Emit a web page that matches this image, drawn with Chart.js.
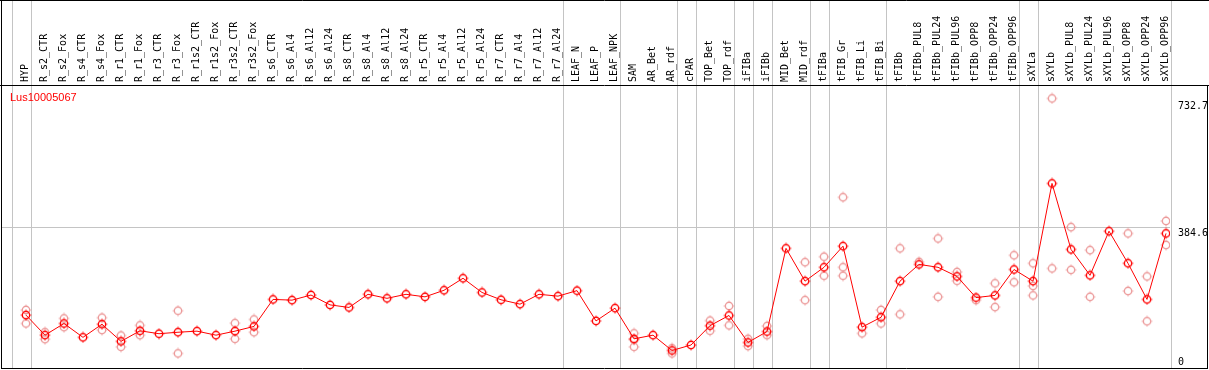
<!DOCTYPE html>
<html>
<head>
<meta charset="utf-8">
<script src="https://cdn.jsdelivr.net/npm/chart.js@4/dist/chart.umd.min.js"></script>
<style>
  html, body { margin: 0; padding: 0; background: #fff; }
  #wrap { width: 1209px; height: 370px; }
</style>
</head>
<body>
<div id="wrap"><canvas id="expr" width="1209" height="370"></canvas></div>
<script>
const geneName = 'Lus10005067';

const categories = [
    'HYP', 'R_s2_CTR', 'R_s2_Fox', 'R_s4_CTR', 'R_s4_Fox', 'R_r1_CTR', 'R_r1_Fox', 'R_r3_CTR', 'R_r3_Fox', 'R_r1s2_CTR',
    'R_r1s2_Fox', 'R_r3s2_CTR', 'R_r3s2_Fox', 'R_s6_CTR', 'R_s6_Al4', 'R_s6_Al12', 'R_s6_Al24', 'R_s8_CTR', 'R_s8_Al4', 'R_s8_Al12',
    'R_s8_Al24', 'R_r5_CTR', 'R_r5_Al4', 'R_r5_Al12', 'R_r5_Al24', 'R_r7_CTR', 'R_r7_Al4', 'R_r7_Al12', 'R_r7_Al24', 'LEAF_N',
    'LEAF_P', 'LEAF_NPK', 'SAM', 'AR_Bet', 'AR_rdf', 'cPAR', 'TOP_Bet', 'TOP_rdf', 'iFIBa', 'iFIBb',
    'MID_Bet', 'MID_rdf', 'tFIBa', 'tFIB_Gr', 'tFIB_Li', 'tFIB_Bi', 'tFIBb', 'tFIBb_PUL8', 'tFIBb_PUL24', 'tFIBb_PUL96',
    'tFIBb_OPP8', 'tFIBb_OPP24', 'tFIBb_OPP96', 'sXYLa', 'sXYLb', 'sXYLb_PUL8', 'sXYLb_PUL24', 'sXYLb_PUL96', 'sXYLb_OPP8', 'sXYLb_OPP24',
    'sXYLb_OPP96'
];

// mean expression per sample
const meanValues = [
    145, 90, 122, 84, 120, 73, 102, 94, 98, 101,
    90, 101, 114, 188, 186, 200, 173, 166, 202, 191,
    202, 195, 213, 246, 207, 187, 175, 202, 197, 212,
    129, 164, 80, 90, 48, 63, 116, 144, 70, 100,
    328, 238, 276, 334, 112, 139, 238, 284, 276, 251,
    193, 199, 270, 238, 506, 325, 254, 375, 287, 188,
    369
];

// single replicates (null where hidden under the mean)
const replicateA = [
    159, 98, 136, null, 138, 89, 117, null, 157, null,
    null, 123, 133, null, null, null, null, null, null, null,
    null, null, null, null, null, null, null, null, null, null,
    null, null, 95, null, 54, null, 130, 170, 80, 115,
    null, 290, 305, 468, 95, 159, 328, 291, 355, 263,
    186, 232, 309, 287, 739, 386, 323, null, 369, 251,
    403
];
const replicateB = [
    122, 79, 112, null, 104, 58, 90, null, 40, null,
    null, 80, 98, null, null, null, null, null, null, null,
    null, null, null, null, null, null, null, null, null, null,
    null, null, 77, null, 40, null, 102, 117, 60, 90,
    null, 186, 253, 276, null, 122, 147, null, 195, 239,
    null, 167, 235, 225, 273, 269, 195, null, 211, 128,
    337
];
const replicateC = [
    null, null, null, null, null, null, null, null, null, null,
    null, null, null, null, null, null, null, null, null, null,
    null, null, null, null, null, null, null, null, null, null,
    null, null, 58, null, null, null, null, null, null, null,
    null, null, null, 253, null, null, null, null, null, null,
    null, null, null, 199, null, null, null, null, null, null,
    null
];

const yTicks = [0, 384.6, 732.7];
// vertical group separators, drawn just after these sample indexes
const groupEnds = [-1, 0, 28, 31, 34, 35, 37, 38, 39, 41, 42, 45, 52, 53, 60];

const monoFont = '"DejaVu Sans Mono", monospace';

function toPoints(arr){
    return arr.map((v, i) => ({ x: i, y: v })).filter(p => p.y !== null);
}

// circle marker with little ticks, like the original plot
function makeMarker(color){
    const c = document.createElement('canvas');
    c.width = 12;
    c.height = 12;
    const g = c.getContext('2d');
    g.strokeStyle = color;
    g.lineWidth = 1.4;
    g.beginPath();
    g.arc(6, 6, 3.7, 0, Math.PI * 2);
    g.stroke();
    g.lineWidth = 0.9;
    g.beginPath();
    g.moveTo(6, 0.6); g.lineTo(6, 1.7);
    g.moveTo(6, 10.3); g.lineTo(6, 11.4);
    g.moveTo(0.6, 6); g.lineTo(1.7, 6);
    g.moveTo(10.3, 6); g.lineTo(11.4, 6);
    g.stroke();
    return c;
}

const redMarker = makeMarker('#ff0000');
const paleMarker = makeMarker('#ec9a9a');

const separatorPlugin = {
    id: 'separators',
    beforeDatasetsDraw(chart){
        const ctx = chart.ctx;
        const xs = chart.scales.x;
        const area = chart.chartArea;
        ctx.save();
        ctx.strokeStyle = '#c4c4c4';
        ctx.lineWidth = 1;
        groupEnds.forEach(function(idx){
            const px = Math.round(xs.getPixelForValue(idx + 0.24)) + 0.5;
            ctx.beginPath();
            ctx.moveTo(px, 0);
            ctx.lineTo(px, area.bottom);
            ctx.stroke();
        });
        ctx.restore();
    }
};

const framePlugin = {
    id: 'frame',
    afterDraw(chart){
        const ctx = chart.ctx;
        const area = chart.chartArea;
        const w = chart.width;
        const right = chart.scales.y.right;
        ctx.save();
        ctx.strokeStyle = '#000';
        ctx.lineWidth = 1;
        ctx.beginPath();
        ctx.moveTo(0, 0.5); ctx.lineTo(w, 0.5);
        ctx.moveTo(0, area.top + 0.5); ctx.lineTo(w, area.top + 0.5);
        ctx.moveTo(1.5, 0); ctx.lineTo(1.5, area.bottom + 1);
        ctx.moveTo(1, area.bottom + 0.5); ctx.lineTo(right + 1, area.bottom + 0.5);
        ctx.moveTo(right + 0.5, area.top); ctx.lineTo(right + 0.5, area.bottom + 1);
        ctx.stroke();

        ctx.fillStyle = '#ff0000';
        ctx.font = '11px "Liberation Sans", Arial, sans-serif';
        ctx.textBaseline = 'alphabetic';
        ctx.fillText(geneName, area.left + 8, area.top + 16);
        ctx.restore();
    }
};

const paleDataset = (arr) => ({
    data: toPoints(arr),
    showLine: false,
    pointStyle: paleMarker,
    borderColor: '#ec9a9a',
    backgroundColor: 'transparent'
});

// drop the label overhang padding chart.js adds around the plot
function noPadding(scale){
    scale.paddingTop = 0;
    scale.paddingBottom = 0;
    scale.paddingLeft = 0;
    scale.paddingRight = 0;
}

const chart = new Chart(document.getElementById('expr'), {
    type: 'line',
    data: {
        datasets: [
            {
                data: toPoints(meanValues),
                borderColor: '#ff0000',
                borderWidth: 1,
                backgroundColor: 'transparent',
                pointStyle: redMarker,
                tension: 0
            },
            paleDataset(replicateA),
            paleDataset(replicateB),
            paleDataset(replicateC)
        ]
    },
    options: {
        responsive: false,
        animation: false,
        devicePixelRatio: 1,
        events: [],
        layout: {
            autoPadding: false,
            padding: { left: 2, right: 2, top: 0, bottom: 2 }
        },
        plugins: {
            legend: { display: false },
            tooltip: { enabled: false },
            title: { display: false }
        },
        scales: {
            x: {
                type: 'linear',
                position: 'top',
                min: -1.263,
                max: 60.21,
                afterBuildTicks: (scale) => {
                    scale.ticks = categories.map((c, i) => ({ value: i }));
                },
                afterFit: (scale) => { scale.height = 85; noPadding(scale); },
                grid: { display: false, drawTicks: false },
                border: { display: false },
                ticks: {
                    autoSkip: false,
                    minRotation: 90,
                    maxRotation: 90,
                    padding: 3,
                    labelOffset: 11,
                    color: '#000',
                    font: { family: monoFont, size: 10 },
                    callback: (v) => categories[v]
                }
            },
            y: {
                type: 'linear',
                position: 'right',
                min: 0,
                max: 775.7,
                afterBuildTicks: (scale) => {
                    scale.ticks = yTicks.map(v => ({ value: v }));
                },
                afterFit: (scale) => { scale.width = 37; noPadding(scale); },
                grid: {
                    drawTicks: false,
                    color: (ctx) => (ctx.tick && ctx.tick.value === 384.6) ? '#c4c4c4' : 'transparent'
                },
                border: { display: false },
                ticks: {
                    padding: 8,
                    color: '#000',
                    font: { family: monoFont, size: 10 },
                    // two-line labels nudge the text below the line (above it for 0)
                    callback: (v) => v === 0 ? ['0', ''] : ['', String(v)]
                }
            }
        }
    },
    plugins: [separatorPlugin, framePlugin]
});
</script>
</body>
</html>
